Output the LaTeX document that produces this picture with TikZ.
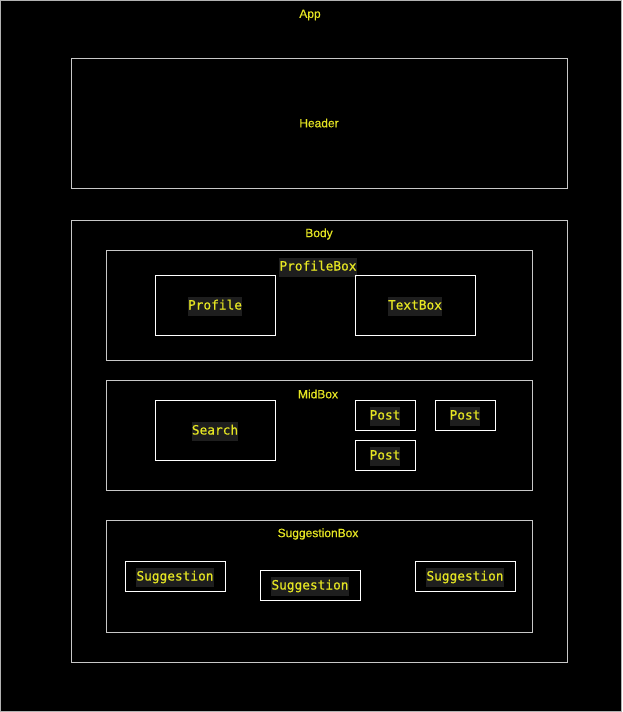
\documentclass[tikz,border=0pt]{standalone}
\usepackage{fontspec}
\setmainfont{Liberation Sans}
\newfontfamily\titlefont{Liberation Sans}[FakeBold=0.5]
\newfontfamily\codefont{DejaVu Sans Mono}[FakeBold=0.6]
\definecolor{txt}{RGB}{230,230,35}
\definecolor{codebg}{RGB}{30,30,30}
\definecolor{outer}{RGB}{200,200,200}
\tikzset{
  frame/.style={draw=outer, line width=1pt, inner sep=0pt},
  box/.style={draw=white, line width=1pt, inner sep=0pt},
  title/.style={text=txt, font=\titlefont\fontsize{12}{14}\selectfont, inner sep=0pt},
  code/.style={text=txt, fill=codebg, font=\codefont\fontsize{12.8}{15}\selectfont,
    inner xsep=0pt, inner ysep=3pt, text height=10pt, text depth=3pt}
}
\begin{document}
\begin{tikzpicture}[x=1pt, y=-1pt]
  \fill[black] (0,0) rectangle (622,712);
  \draw[gray!60, line width=1pt] (0.5,0.5) rectangle (621.5,711.5);
  \node[title] (app) at (310,15) {App};
  % header
  \node[frame, minimum width=496, minimum height=130] (header) at (319,123) {};
  \node[title] at (header) {Header};
  % body
  \node[frame, minimum width=496, minimum height=442] (body) at (319,441) {};
  \node[title] (bodylbl) at (319,234) {Body};
  % profile box
  \node[frame, minimum width=426, minimum height=110] (profilebox) at (319,305) {};
  \node[code] at (318,267) {ProfileBox};
  \node[box, minimum width=120, minimum height=60] (profile) at (215,305) {};
  \node[code] at ([yshift=-1]profile) {Profile};
  \node[box, minimum width=120, minimum height=60] (textbox) at (415,305) {};
  \node[code] at ([yshift=-1]textbox) {TextBox};
  % mid box
  \node[frame, minimum width=426, minimum height=110] (midbox) at (319,435) {};
  \node[title] at (318,394) {MidBox};
  \node[box, minimum width=120, minimum height=60] (search) at (215,430) {};
  \node[code] at ([yshift=-1]search) {Search};
  \foreach \n/\x/\y in {posta/385/415, postb/465/415, postc/385/455} {
    \node[box, minimum width=60, minimum height=30] (\n) at (\x,\y) {};
    \node[code] at ([yshift=-1]\n) {Post};
  }
  % suggestion box
  \node[frame, minimum width=426, minimum height=112] (suggestionbox) at (319,576) {};
  \node[title] at (318,534) {SuggestionBox};
  \foreach \n/\x/\y in {sugga/175/576, suggb/310/585, suggc/465/576} {
    \node[box, minimum width=100, minimum height=30] (\n) at (\x,\y) {};
    \node[code] at ([yshift=-1]\n) {Suggestion};
  }
\end{tikzpicture}
\end{document}
